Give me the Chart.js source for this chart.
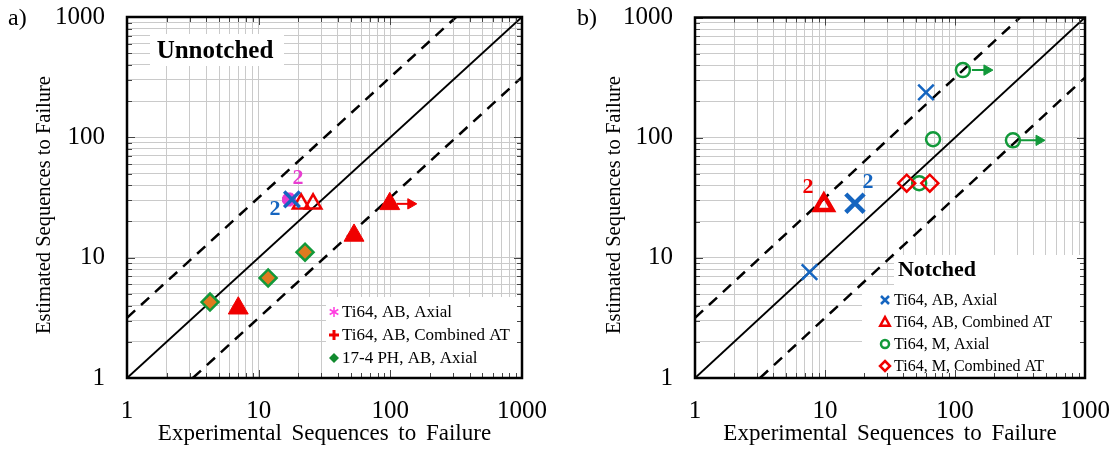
<!DOCTYPE html>
<html>
<head>
<meta charset="utf-8">
<script src="https://cdn.jsdelivr.net/npm/chart.js@4.4.1/dist/chart.umd.min.js"></script>
<style>
html,body{margin:0;padding:0;background:#fff;}
#wrap{position:relative;width:1115px;height:450px;overflow:hidden;}
#cA{position:absolute;left:0;top:0;}
#cB{position:absolute;left:560px;top:0;}
</style>
</head>
<body>
<div id="wrap">
<canvas id="cA" width="560" height="450"></canvas>
<canvas id="cB" width="555" height="450"></canvas>
</div>
<script>
const FONT = "'Liberation Serif','Times New Roman',serif";

// ---------- axis ticks ----------
const majorTickValues = [1, 10, 100, 1000];
const majorTickLabels = ['1', '10', '100', '1000'];
const minorMultipliers = [1, 2, 3, 4, 5, 6, 7, 8, 9];
const xTitle = 'Experimental Sequences to Failure';
const yTitle = 'Estimated Sequences to Failure';

// ---------- reference lines ----------
const unityX = [1, 1000];       const unityY = [1, 1000];
const upperBandX = [1, 316.2];  const upperBandY = [3.162, 1000];
const lowerBandX = [3.162, 1000]; const lowerBandY = [1, 316.2];

// ---------- panel a) Unnotched ----------
const aAxialStarX = [17.0];          const aAxialStarY = [30.5];
const aAxialCrossX = [17.9];         const aAxialCrossY = [30.5];
const aCombinedOpenX = [21, 25.9];   const aCombinedOpenY = [28, 28];
const aCombinedFilledX = [7, 53, 99]; const aCombinedFilledY = [3.8, 15.3, 28];
const aPHX = [4.27, 11.8, 22.5];     const aPHY = [4.28, 6.78, 11.1];
const aRunoutX = [112, 143];         const aRunoutY = [28, 28];

// ---------- panel b) Notched ----------
const bABAxialX = [7.6, 17, 59.8];   const bABAxialY = [7.6, 28.5, 238];
const bABCombX = [9.8];              const bABCombY = [27.5];
const bMAxialX = [115, 67.8, 279, 53]; const bMAxialY = [365, 97, 95, 41.8];
const bMCombX = [42.5, 64];          const bMCombY = [41.8, 41.8];
const bRunout1X = [135, 176];        const bRunout1Y = [365, 365];
const bRunout2X = [322, 443];        const bRunout2Y = [95, 95];

// ---------- colours ----------
const RED = '#f00000', BLUE = '#1565c0', GREEN = '#12993a', MAGENTA = '#e83cd0', ORANGE = '#e07a1f';

function pts(xs, ys) { return xs.map((x, i) => ({ x: x, y: ys[i] })); }

const tickValues = [];
majorTickValues.slice(0, 3).forEach(d => minorMultipliers.forEach(m => tickValues.push(d * m)));
tickValues.push(1000);

function labelFor(v) {
  const i = majorTickValues.findIndex(m => Math.abs(m - v) < 1e-9);
  return i >= 0 ? majorTickLabels[i] : '';
}

function refLines() {
  return [
    { type: 'line', data: pts(unityX, unityY), borderColor: '#000', borderWidth: 2, pointRadius: 0, order: 5 },
    { type: 'line', data: pts(upperBandX, upperBandY), borderColor: '#000', borderWidth: 2.5, borderDash: [11, 8], pointRadius: 0, order: 5 },
    { type: 'line', data: pts(lowerBandX, lowerBandY), borderColor: '#000', borderWidth: 2.5, borderDash: [11, 8], pointRadius: 0, order: 5 }
  ];
}

function arrowDs(xs, ys, color) {
  return { type: 'line', data: pts(xs, ys), borderColor: color, borderWidth: 2, backgroundColor: color,
    pointRadius: [0, 6], pointStyle: 'triangle', pointRotation: 90, pointBorderWidth: 1, pointBorderColor: color, order: 1 };
}

// marker for custom legend
function drawMarker(ctx, m, x, y) {
  ctx.save();
  ctx.strokeStyle = m.color; ctx.fillStyle = m.fill || m.color; ctx.lineWidth = m.lw || 2;
  const r = m.r;
  ctx.beginPath();
  if (m.style === 'asterisk') {
    for (let k = 0; k < 3; k++) {
      const a = Math.PI / 2 + k * Math.PI / 3;
      ctx.moveTo(x + Math.cos(a) * r, y + Math.sin(a) * r);
      ctx.lineTo(x - Math.cos(a) * r, y - Math.sin(a) * r);
    }
    ctx.stroke();
  } else if (m.style === 'plus') {
    ctx.moveTo(x - r, y); ctx.lineTo(x + r, y); ctx.moveTo(x, y - r); ctx.lineTo(x, y + r); ctx.stroke();
  } else if (m.style === 'cross') {
    ctx.moveTo(x - r, y - r); ctx.lineTo(x + r, y + r); ctx.moveTo(x + r, y - r); ctx.lineTo(x - r, y + r); ctx.stroke();
  } else if (m.style === 'diamond') {
    ctx.moveTo(x, y - r); ctx.lineTo(x + r, y); ctx.lineTo(x, y + r); ctx.lineTo(x - r, y); ctx.closePath();
    if (m.filled) ctx.fill(); else { ctx.fillStyle = '#fff'; ctx.fill(); ctx.stroke(); }
  } else if (m.style === 'triangle') {
    ctx.moveTo(x, y - r); ctx.lineTo(x + r * 0.95, y + r * 0.75); ctx.lineTo(x - r * 0.95, y + r * 0.75); ctx.closePath();
    ctx.stroke();
  } else if (m.style === 'circle') {
    ctx.arc(x, y, r, 0, Math.PI * 2); ctx.stroke();
  }
  ctx.restore();
}

const deco = {
  id: 'deco',
  beforeDatasetsDraw(chart, args, o) {
    const ctx = chart.ctx;
    ctx.save();
    ctx.fillStyle = '#fff';
    (o.whiteRects || []).forEach(b => ctx.fillRect(b[0], b[1], b[2] - b[0], b[3] - b[1]));
    ctx.restore();
  },
  afterDatasetsDraw(chart, args, o) {
    const ctx = chart.ctx, ca = chart.chartArea, sx = chart.scales.x, sy = chart.scales.y;
    ctx.save();
    // inner tick marks
    ctx.strokeStyle = '#444'; ctx.lineWidth = 1;
    tickValues.forEach(v => {
      const len = majorTickValues.includes(v) ? 8 : 5;
      const px = Math.round(sx.getPixelForValue(v)) + 0.5, py = Math.round(sy.getPixelForValue(v)) + 0.5;
      ctx.beginPath();
      ctx.moveTo(px, ca.bottom); ctx.lineTo(px, ca.bottom - len);
      ctx.moveTo(px, ca.top); ctx.lineTo(px, ca.top + len);
      ctx.moveTo(ca.left, py); ctx.lineTo(ca.left + len, py);
      ctx.moveTo(ca.right, py); ctx.lineTo(ca.right - len, py);
      ctx.stroke();
    });
    // frame
    ctx.strokeStyle = '#000'; ctx.lineWidth = 2.5;
    ctx.strokeRect(ca.left, ca.top, ca.right - ca.left, ca.bottom - ca.top);
    // annotation texts
    ctx.textAlign = 'center'; ctx.textBaseline = 'middle';
    (o.texts || []).forEach(t => {
      ctx.font = t.font; ctx.fillStyle = t.color || '#000';
      ctx.fillText(t.text, sx.getPixelForValue(t.x), sy.getPixelForValue(t.y));
    });
    // legend
    if (o.legendItems) {
      ctx.textAlign = 'left';
      o.legendItems.forEach(it => {
        drawMarker(ctx, it.marker, o.legendMarkerX, it.row);
        ctx.font = o.legendFont; ctx.fillStyle = '#000';
        ctx.fillText(it.label, o.legendTextX, it.row + 1);
      });
    }
    // axis titles
    ctx.textAlign = 'center'; ctx.fillStyle = '#000';
    ctx.font = '23px ' + FONT;
    if ('wordSpacing' in ctx) ctx.wordSpacing = '4px';
    ctx.fillText(xTitle, (ca.left + ca.right) / 2, 434);
    if ('wordSpacing' in ctx) ctx.wordSpacing = '0px';
    ctx.save();
    ctx.translate(o.yTitleX, 205);
    ctx.rotate(-Math.PI / 2);
    ctx.font = '20.5px ' + FONT;
    ctx.fillText(yTitle, 0, 0);
    ctx.restore();
    // panel tag
    if (o.tag) {
      ctx.textAlign = 'left'; ctx.font = '24px ' + FONT; ctx.fillStyle = '#000';
      ctx.fillText(o.tag.text, o.tag.x, o.tag.y);
    }
    ctx.restore();
  }
};

function fixPad(s) { s.paddingTop = 0; s.paddingBottom = 0; s.paddingLeft = 0; s.paddingRight = 0; }

function scales(yAxisWidth) {
  const tickFont = { family: FONT, size: 25 };
  return {
    x: {
      type: 'logarithmic', min: 1, max: 1000,
      afterBuildTicks: s => { s.ticks = tickValues.map(v => ({ value: v })); },
      afterFit: s => { s.height = 72; fixPad(s); },
      grid: { color: '#cacaca', lineWidth: 1, drawTicks: false },
      border: { display: false },
      ticks: { autoSkip: false, maxRotation: 0, padding: 18, color: '#000', font: tickFont, callback: v => labelFor(v) },
      title: { display: false, text: xTitle }
    },
    y: {
      type: 'logarithmic', min: 1, max: 1000,
      afterBuildTicks: s => { s.ticks = tickValues.map(v => ({ value: v })); },
      afterFit: s => { s.width = yAxisWidth; fixPad(s); },
      grid: { color: '#cacaca', lineWidth: 1, drawTicks: false },
      border: { display: false },
      ticks: { autoSkip: false, padding: 22, color: '#000', font: tickFont, callback: v => labelFor(v) },
      title: { display: false, text: yTitle }
    }
  };
}

// ---------- chart a) ----------
new Chart(document.getElementById('cA'), {
  type: 'scatter',
  data: {
    datasets: [
      { label: 'Ti64, AB, Axial', data: pts(aAxialCrossX, aAxialCrossY), pointStyle: 'crossRot', pointRadius: 11, borderWidth: 3.5, borderColor: BLUE, backgroundColor: BLUE, order: 0 },
      { label: 'Ti64, AB, Axial', data: pts(aAxialStarX, aAxialStarY), pointStyle: 'star', pointRadius: 7, borderWidth: 5, borderColor: MAGENTA, backgroundColor: MAGENTA, order: 0 },
      { label: 'Ti64, AB, Combined AT', data: pts(aCombinedOpenX, aCombinedOpenY), pointStyle: 'triangle', pointRadius: 9.5, borderWidth: 2.5, borderColor: RED, backgroundColor: 'rgba(0,0,0,0)', order: 0 },
      { label: 'Ti64, AB, Combined AT', data: pts(aCombinedFilledX, aCombinedFilledY), pointStyle: 'triangle', pointRadius: 11.5, borderWidth: 1, borderColor: RED, backgroundColor: RED, order: 0 },
      { label: '17-4 PH, AB, Axial', data: pts(aPHX, aPHY), pointStyle: 'rectRot', pointRadius: 8.5, borderWidth: 2.5, borderColor: GREEN, backgroundColor: ORANGE, order: 0 },
      arrowDs(aRunoutX, aRunoutY, RED)
    ].concat(refLines())
  },
  options: {
    responsive: false, animation: false,
    layout: { padding: { left: 0, right: 38, top: 17, bottom: 0 } },
    plugins: {
      legend: { display: false }, tooltip: { enabled: false },
      deco: {
        yTitleX: 45,
        whiteRects: [[326, 297, 521, 377], [150, 34, 284, 66]],
        legendMarkerX: 334, legendTextX: 342, legendFont: '17px ' + FONT,
        legendItems: [
          { label: 'Ti64, AB, Axial', row: 312, marker: { style: 'asterisk', r: 5, lw: 1.5, color: '#ff3de0' } },
          { label: 'Ti64, AB, Combined AT', row: 335, marker: { style: 'plus', r: 5, lw: 3, color: RED } },
          { label: '17-4 PH, AB, Axial', row: 358, marker: { style: 'diamond', r: 5, filled: true, color: '#118a2e' } }
        ],
        texts: [
          { text: 'Unnotched', x: 4.66, y: 520, font: 'bold 25px ' + FONT, color: '#000' },
          { text: '2', x: 19.9, y: 46, font: 'bold 22px ' + FONT, color: MAGENTA },
          { text: '2', x: 13.3, y: 25.4, font: 'bold 22px ' + FONT, color: BLUE }
        ],
        tag: { text: 'a)', x: 8, y: 19 }
      }
    },
    scales: scales(127)
  },
  plugins: [deco]
});

// ---------- chart b) ----------
new Chart(document.getElementById('cB'), {
  type: 'scatter',
  data: {
    datasets: [
      { label: 'Ti64, AB, Axial', data: pts(bABAxialX, bABAxialY), pointStyle: 'crossRot', pointRadius: [11, 13, 11], borderWidth: [2.5, 4.5, 2.5], borderColor: BLUE, backgroundColor: BLUE, order: 0 },
      { label: 'Ti64, AB, Combined AT', data: pts(bABCombX, bABCombY), pointStyle: 'triangle', pointRadius: 10, borderWidth: 4.5, borderColor: RED, backgroundColor: 'rgba(0,0,0,0)', order: 0 },
      { label: 'Ti64, M, Combined AT', data: pts(bMCombX, bMCombY), pointStyle: 'rectRot', pointRadius: 8.5, borderWidth: 2.5, borderColor: RED, backgroundColor: 'rgba(0,0,0,0)', order: 0 },
      { label: 'Ti64, M, Axial', data: pts(bMAxialX, bMAxialY), pointStyle: 'circle', pointRadius: 7, borderWidth: 2.5, borderColor: GREEN, backgroundColor: 'rgba(0,0,0,0)', order: 0 },
      arrowDs(bRunout1X, bRunout1Y, GREEN),
      arrowDs(bRunout2X, bRunout2Y, GREEN)
    ].concat(refLines())
  },
  options: {
    responsive: false, animation: false,
    layout: { padding: { left: 0, right: 30, top: 17, bottom: 0 } },
    plugins: {
      legend: { display: false }, tooltip: { enabled: false },
      deco: {
        yTitleX: 55,
        whiteRects: [[302, 285, 525, 377], [334, 255, 525, 286]],
        legendMarkerX: 325, legendTextX: 334, legendFont: '16px ' + FONT,
        legendItems: [
          { label: 'Ti64, AB, Axial', row: 300, marker: { style: 'cross', r: 4, lw: 2.5, color: BLUE } },
          { label: 'Ti64, AB, Combined AT', row: 322, marker: { style: 'triangle', r: 5, lw: 2.5, color: RED } },
          { label: 'Ti64, M, Axial', row: 344, marker: { style: 'circle', r: 4, lw: 2.5, color: GREEN } },
          { label: 'Ti64, M, Combined AT', row: 366, marker: { style: 'diamond', r: 5, lw: 2.5, color: RED } }
        ],
        texts: [
          { text: 'Notched', x: 72.7, y: 7.9, font: 'bold 22px ' + FONT, color: '#000' },
          { text: '2', x: 7.4, y: 38.7, font: 'bold 22px ' + FONT, color: RED },
          { text: '2', x: 21.4, y: 42.6, font: 'bold 22px ' + FONT, color: BLUE }
        ],
        tag: { text: 'b)', x: 17, y: 19 }
      }
    },
    scales: scales(135)
  },
  plugins: [deco]
});
</script>
</body>
</html>
